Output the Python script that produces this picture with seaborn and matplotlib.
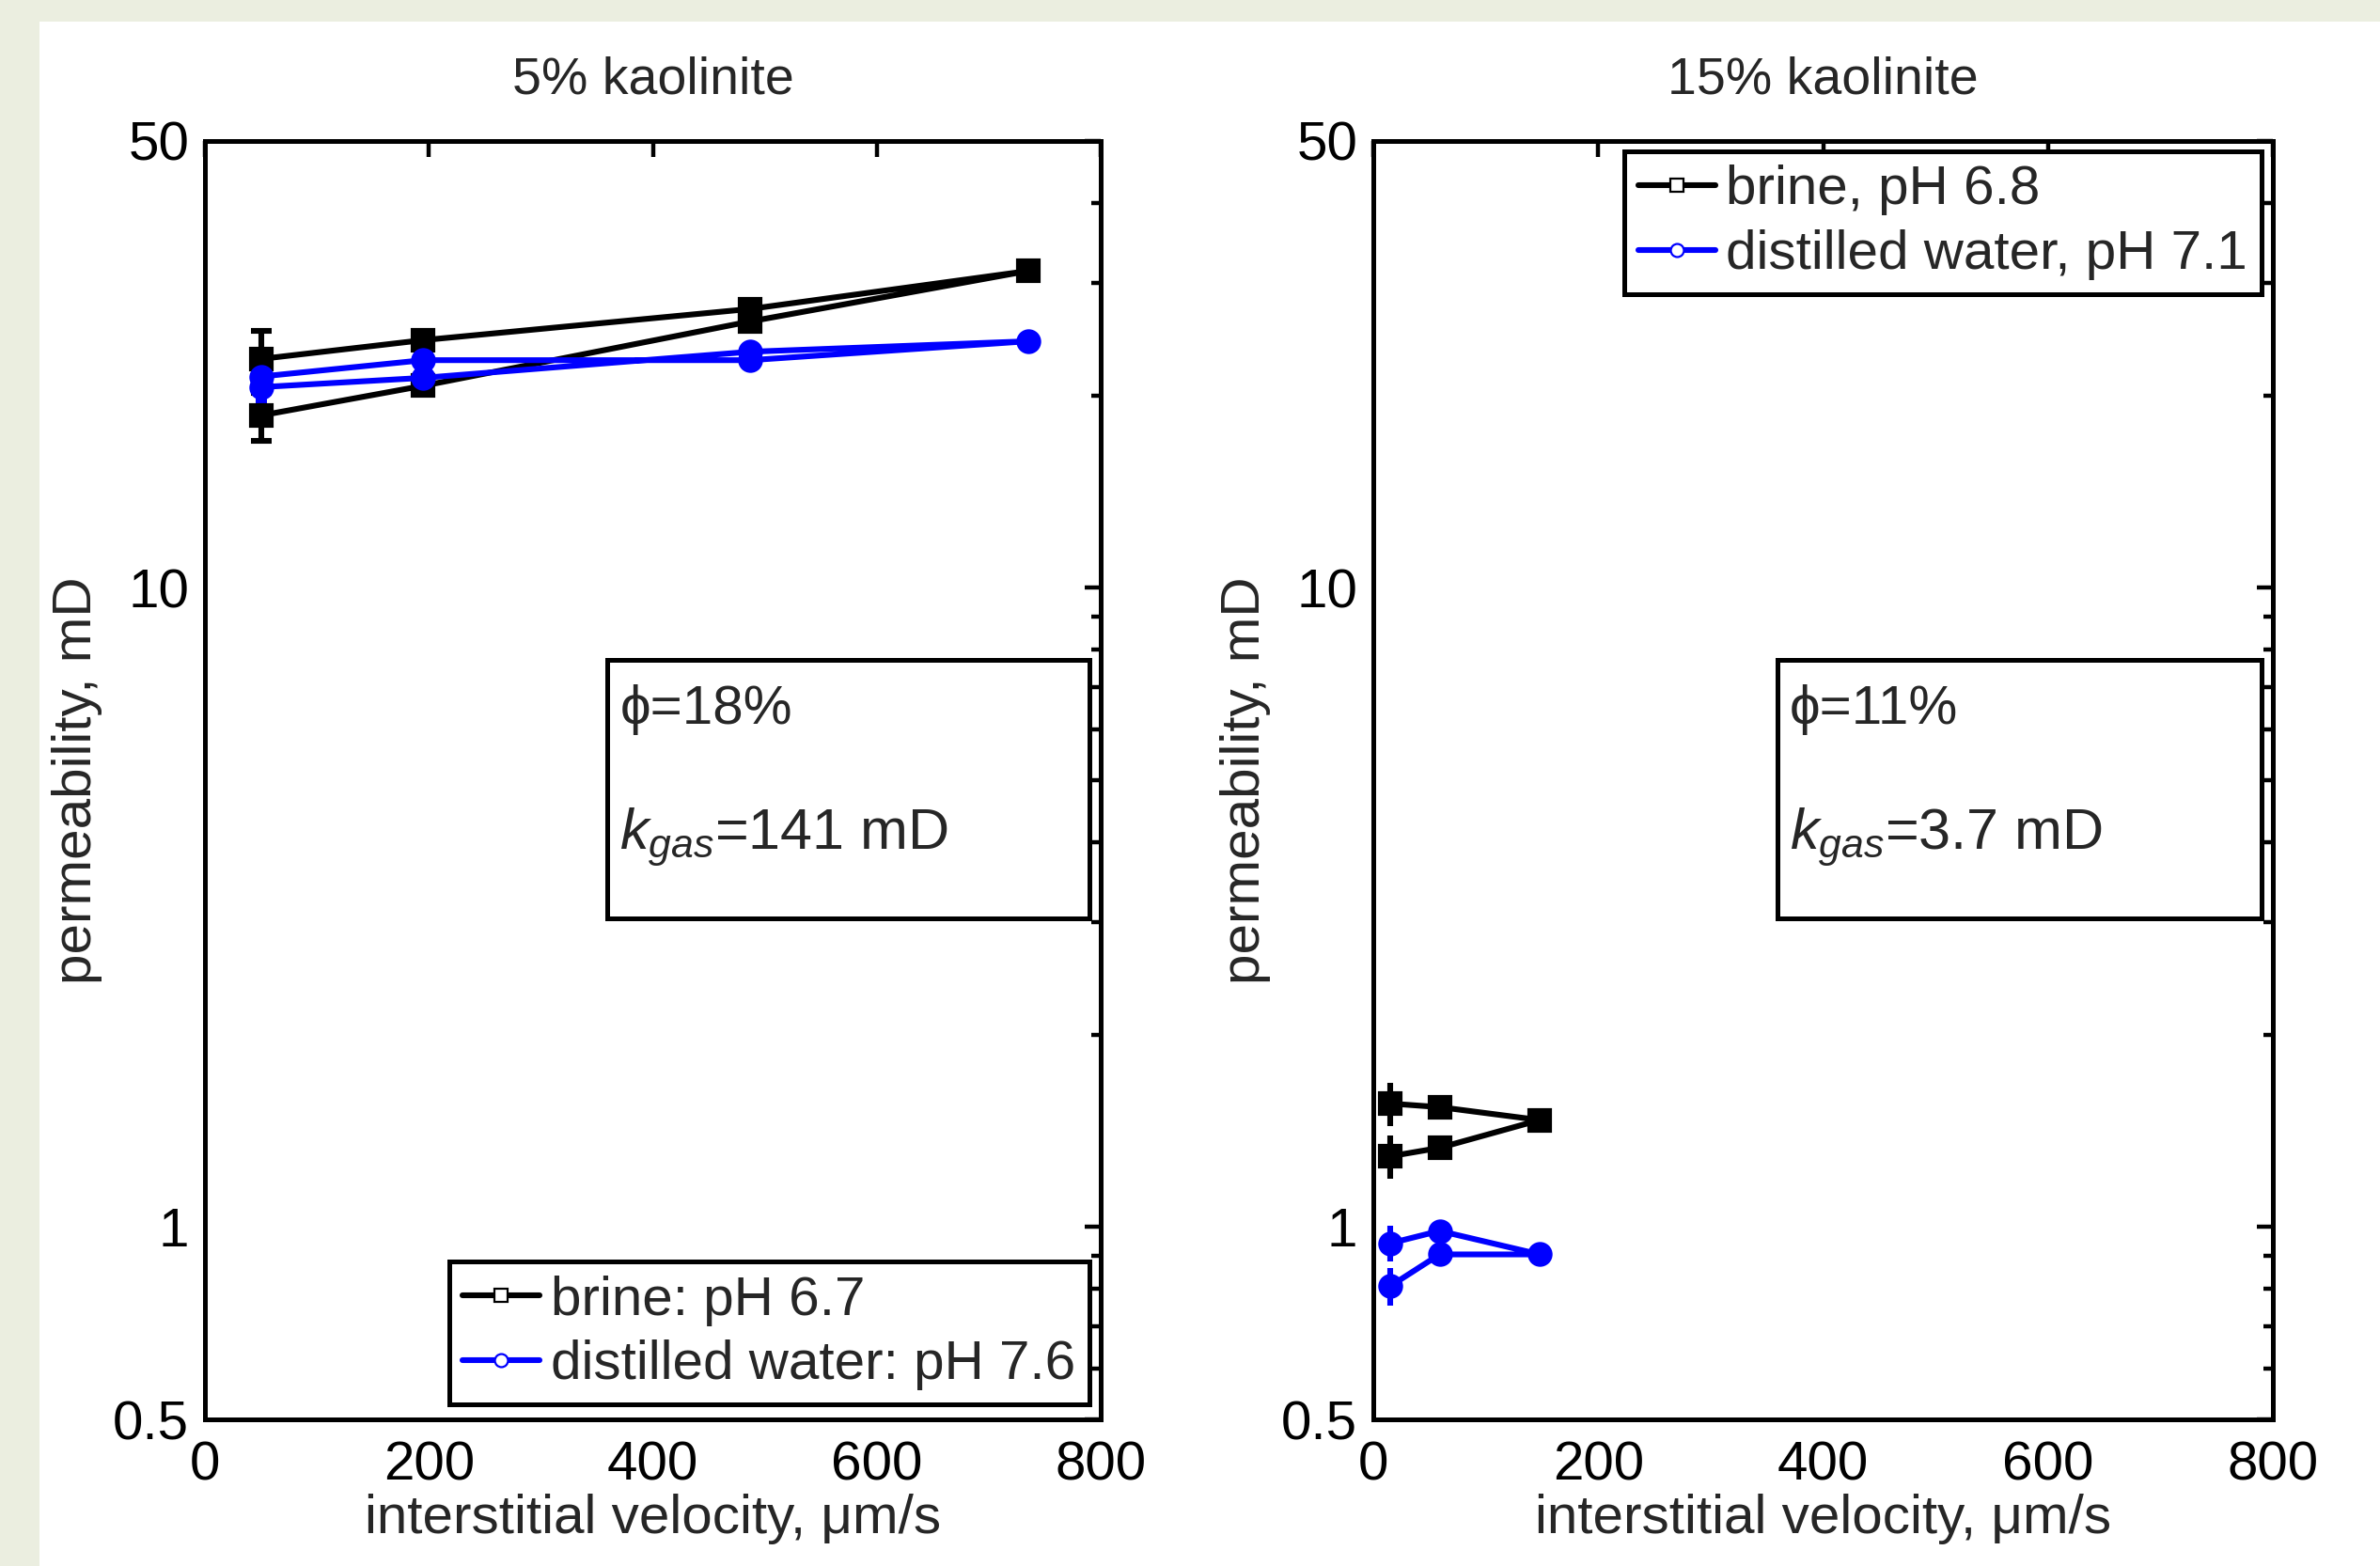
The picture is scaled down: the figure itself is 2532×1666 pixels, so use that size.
import pandas as pd
import matplotlib.pyplot as plt
import seaborn as sns
from matplotlib.lines import Line2D
from matplotlib.patches import Rectangle
from matplotlib.ticker import FixedLocator, LogLocator, NullFormatter

# 5% kaolinite: velocity goes up, then back down
vel_5 = [50, 195, 487, 735, 487, 195, 50]
brine_5 = [22.8, 24.4, 27.3, 31.3, 26.1, 20.7, 18.6]
brine_5_err = [2.4, 0, 0, 0, 0, 0, 1.6]
water_5 = [21.4, 22.7, 22.7, 24.3, 23.4, 21.3, 20.6]
water_5_err = [1.9, 0, 0, 0, 0, 0, 0.9]

# 15% kaolinite
vel_15 = [15, 59, 148, 59, 15]
brine_15 = [1.56, 1.54, 1.47, 1.33, 1.29]
brine_15_err = [0.12, 0, 0, 0, 0.1]
water_15 = [0.943, 0.986, 0.906, 0.906, 0.808]
water_15_err = [0.06, 0, 0, 0, 0.055]

titles = ['5% kaolinite', '15% kaolinite']
labels_5 = ['brine: pH 6.7', 'distilled water: pH 7.6']
labels_15 = ['brine, pH 6.8', 'distilled water, pH 7.1']
porosity = ['ϕ=18%', 'ϕ=11%']
kgas = ['141 mD', '3.7 mD']

x_ticks = [0, 200, 400, 600, 800]
y_ticks = [0.5, 1, 10, 50]
y_tick_labels = ['0.5', '1', '10', '50']

sns.set_theme(style='white')
plt.rcParams['font.family'] = ['Liberation Sans', 'DejaVu Sans']
plt.rcParams['mathtext.fontset'] = 'custom'
plt.rcParams['mathtext.rm'] = 'Liberation Sans'
plt.rcParams['mathtext.it'] = 'Liberation Sans:italic'


def make_frame(vel, brine, water, labels):
    rows = []
    for i, v in enumerate(vel):
        rows.append({'step': i, 'velocity': v, 'perm': brine[i], 'fluid': labels[0]})
    for i, v in enumerate(vel):
        rows.append({'step': i, 'velocity': v, 'perm': water[i], 'fluid': labels[1]})
    return pd.DataFrame(rows)


def draw_panel(ax, vel, brine, brine_err, water, water_err, labels, title,
               phi, kg, legend_loc, legend_anchor, caps):
    ax.errorbar(vel, brine, yerr=brine_err, fmt='none', ecolor='black',
                elinewidth=2.2, capsize=caps[0], capthick=2.2, zorder=2)
    ax.errorbar(vel, water, yerr=water_err, fmt='none', ecolor='blue',
                elinewidth=2.2, capsize=caps[1], capthick=2.2, zorder=2)

    n_before = len(ax.lines)
    df = make_frame(vel, brine, water, labels)
    sns.lineplot(data=df, x='velocity', y='perm', hue='fluid', style='fluid',
                 palette={labels[0]: 'black', labels[1]: 'blue'},
                 markers={labels[0]: 's', labels[1]: 'o'}, dashes=False,
                 sort=False, estimator=None, units='fluid', legend=False,
                 lw=2.2, markersize=8, markeredgewidth=1.5, ax=ax, zorder=3)
    # marker edges in the line colour instead of seaborn's white
    for ln in ax.lines[n_before:]:
        ln.set_markeredgecolor(ln.get_color())

    ax.set_yscale('log')
    ax.set_xlim(0, 800)
    ax.set_ylim(0.5, 50)
    ax.set_xticks(x_ticks)
    ax.yaxis.set_major_locator(FixedLocator(y_ticks))
    ax.set_yticklabels(y_tick_labels)
    ax.yaxis.set_minor_locator(LogLocator(base=10, subs=range(2, 10)))
    ax.yaxis.set_minor_formatter(NullFormatter())
    ax.tick_params(which='both', direction='in', top=True, right=True,
                   width=1.6, colors='black', labelsize=21)
    ax.tick_params(which='major', length=6, pad=6)
    ax.tick_params(axis='x', which='major', pad=8)
    ax.tick_params(which='minor', length=3.5)
    for s in ax.spines.values():
        s.set_linewidth(1.8)
        s.set_color('black')

    ax.set_title(title, fontsize=20, pad=18)
    ax.set_xlabel('interstitial velocity, μm/s', fontsize=21, labelpad=1)
    ax.set_ylabel('permeability, mD', fontsize=21, labelpad=4)

    # info box
    ax.add_patch(Rectangle((0.449, 0.392), 0.538, 0.202, transform=ax.transAxes,
                           fill=False, edgecolor='black', lw=1.8, zorder=4))
    ax.text(0.463, 0.555, phi, transform=ax.transAxes, fontsize=21,
            va='center', ha='left')
    ax.text(0.463, 0.455, r'$k_{gas}$=' + kg, transform=ax.transAxes,
            fontsize=22, va='center', ha='left')

    handles = [
        Line2D([], [], color='black', lw=2.2, marker='s', markersize=5,
               markerfacecolor='white', markeredgewidth=0.8),
        Line2D([], [], color='blue', lw=2.2, marker='o', markersize=5,
               markerfacecolor='white', markeredgewidth=0.8),
    ]
    leg = ax.legend(handles, labels, loc=legend_loc, bbox_to_anchor=legend_anchor,
                    fontsize=21, frameon=True, fancybox=False, framealpha=1,
                    edgecolor='black', handlelength=1.4, handletextpad=0.2,
                    labelspacing=0.25, borderpad=0.25, borderaxespad=0)
    leg.get_frame().set_linewidth(1.8)


fig = plt.figure(figsize=(12.66, 8.33), dpi=200)
fig.patch.set_facecolor('#ebeee0')
fig.add_artist(Rectangle((0.0166, 0), 1 - 0.0166, 0.986, transform=fig.transFigure,
                         facecolor='white', edgecolor='none', zorder=0))

ax1 = fig.add_axes([0.0861, 0.0936, 0.3764, 0.8164])
ax2 = fig.add_axes([0.577, 0.0936, 0.378, 0.8164])

draw_panel(ax1, vel_5, brine_5, brine_5_err, water_5, water_5_err, labels_5,
           titles[0], porosity[0], kgas[0], 'lower right', (0.987, 0.012), (4, 2))
draw_panel(ax2, vel_15, brine_15, brine_15_err, water_15, water_15_err, labels_15,
           titles[1], porosity[1], kgas[1], 'upper right', (0.987, 0.992), (0, 0))

fig.savefig('out.png', dpi=200, facecolor=fig.get_facecolor())
